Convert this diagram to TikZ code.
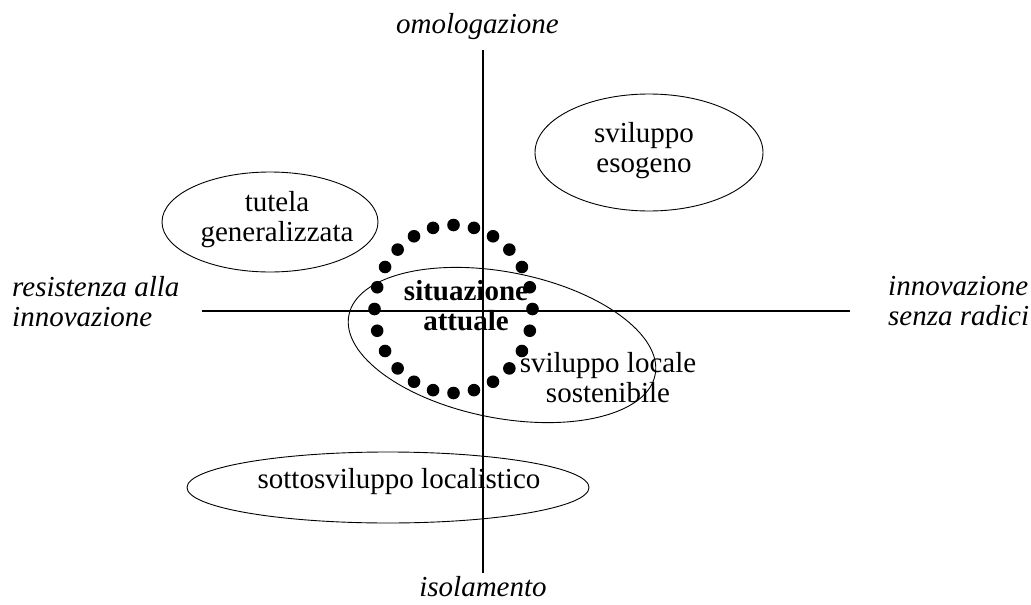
\documentclass[tikz,border=0pt]{standalone}
\usepackage{fontspec}
\setmainfont{Liberation Serif}
\usetikzlibrary{shapes.geometric}
\newcommand{\diagfont}{\fontsize{29}{30}\selectfont}

\begin{document}
\begin{tikzpicture}[x=1pt, y=-1pt,
    axis/.style={line width=1.3pt},
    zone/.style={draw, ellipse, line width=0.9pt, inner sep=0pt},
    zonelabel/.style={font=\diagfont, align=center},
    axlabel/.style={font=\diagfont\itshape, align=left}]
        \useasboundingbox (0,0) rectangle (1031,605);
        % zones
        \node[zone, minimum width=228pt, minimum height=117pt] (esogeno) at (649,152.5) {};
        \node[zone, minimum width=216pt, minimum height=100pt] (tutela) at (270,222) {};
        \node[zone, minimum width=402pt, minimum height=71pt] (sottosv) at (388,487.5) {};
        \node[zone, minimum width=312pt, minimum height=146pt, rotate=-11] (locale) at (502,345) {};
        % axes
        \coordinate (top) at (483,50);
        \coordinate (bottom) at (483,573);
        \coordinate (left) at (202,311);
        \coordinate (right) at (850,311);
        \draw[axis] (top) -- (bottom);
        \draw[axis] (left) -- (right);
        % situazione attuale
        \coordinate (now) at (453.5,309);
        \foreach \a in {0,15,...,345}
            \fill (now) ++(\a:79 and 84) circle[radius=6.3];
        % labels
        \node[zonelabel] (esogenotxt) at (644,150.5) {sviluppo\\esogeno};
        \node[zonelabel] (tutelatxt) at (277,220) {tutela\\generalizzata};
        \node[zonelabel, anchor=base] (sottosvtxt) at (399,488) {sottosviluppo localistico};
        \node[zonelabel] (localetxt) at (608,378) {sviluppo locale\\sostenibile};
        \node[zonelabel, font=\diagfont\bfseries] (nowtxt) at (466,306) {situazione\\attuale};
        \node[axlabel, anchor=base] (omolog) at (477.5,33) {omologazione};
        \node[axlabel, anchor=base] (isolam) at (483,596) {isolamento};
        \node[axlabel, anchor=west, inner sep=0pt] (resist) at (12,301.5) {resistenza alla\\innovazione};
        \node[axlabel, anchor=west, inner sep=0pt] (innov) at (888,301) {innovazione\\senza radici};
    \end{tikzpicture}
\end{document}
